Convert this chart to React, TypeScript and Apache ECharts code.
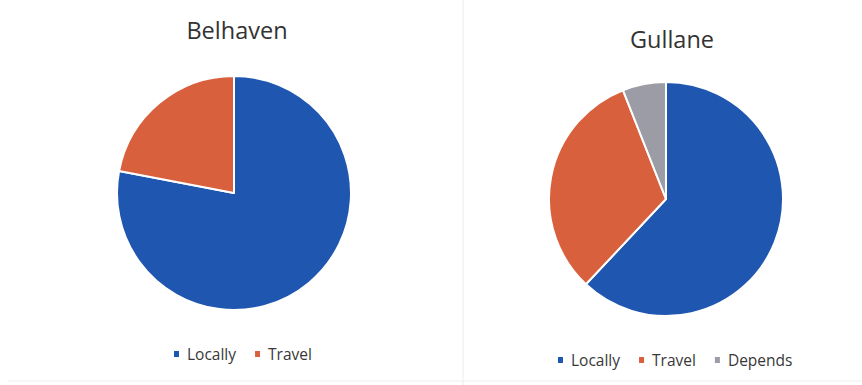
import React, { useEffect, useRef } from "react";
import * as echarts from "echarts";

const belhavenCategories = ["Locally", "Travel"];
const belhavenValues = [78, 22];
const gullaneCategories = ["Locally", "Travel", "Depends"];
const gullaneValues = [62, 32, 6];
const colorByName: Record<string, string> = {
  Locally: "#1f56b0",
  Travel: "#d9603d",
  Depends: "#9c9ca6",
};

const FONT = "'Open Sans', 'Liberation Sans', sans-serif";

export default function App() {
  const ref = useRef<HTMLDivElement>(null);
  useEffect(() => {
    if (!ref.current) return;
    const chart = echarts.init(ref.current, undefined, { renderer: "svg" });
    const mk = (cats: string[], vals: number[]) =>
      cats.map((c, i) => ({ name: c, value: vals[i], itemStyle: { color: colorByName[c] } }));
    const legendText = { fontFamily: FONT, fontSize: 15.5, color: "#383838", padding: [0, 0, 0, 2] };
    chart.setOption({
      animation: false,
      backgroundColor: "#ffffff",
      title: [
        {
          text: "Belhaven",
          left: 232,
          top: 13,
          textAlign: "center",
          textStyle: { fontFamily: FONT, fontSize: 23.5, fontWeight: "normal", color: "#333333" },
        },
        {
          text: "Gullane",
          left: 667,
          top: 22,
          textAlign: "center",
          textStyle: { fontFamily: FONT, fontSize: 23.5, fontWeight: "normal", color: "#333333" },
        },
      ],
      legend: [
        {
          data: belhavenCategories,
          left: 167,
          top: 341,
          icon: "rect",
          itemWidth: 7,
          itemHeight: 8,
          itemGap: 17,
          textStyle: legendText,
        },
        {
          data: gullaneCategories,
          left: 551,
          top: 347,
          icon: "rect",
          itemWidth: 7,
          itemHeight: 8,
          itemGap: 17,
          textStyle: legendText,
        },
      ],
      graphic: [
        { type: "line", shape: { x1: 463, y1: 0, x2: 463, y2: 385 }, style: { stroke: "#ececec", lineWidth: 1 } },
        { type: "line", shape: { x1: 8, y1: 381, x2: 862, y2: 381 }, style: { stroke: "#eeeeee", lineWidth: 1 } },
      ],
      series: [
        {
          type: "pie",
          name: "Belhaven",
          center: [234, 193],
          radius: [0, 117],
          startAngle: 90,
          clockwise: true,
          label: { show: false },
          labelLine: { show: false },
          itemStyle: { borderColor: "#ffffff", borderWidth: 2 },
          emphasis: { disabled: true },
          data: mk(belhavenCategories, belhavenValues),
        },
        {
          type: "pie",
          name: "Gullane",
          center: [666, 199],
          radius: [0, 117],
          startAngle: 90,
          clockwise: true,
          label: { show: false },
          labelLine: { show: false },
          itemStyle: { borderColor: "#ffffff", borderWidth: 2 },
          emphasis: { disabled: true },
          data: mk(gullaneCategories, gullaneValues),
        },
      ],
    });
    return () => chart.dispose();
  }, []);
  return (
    <div
      ref={ref}
      style={{ position: "fixed", left: 0, top: 0, width: 862, height: 385 }}
    />
  );
}
